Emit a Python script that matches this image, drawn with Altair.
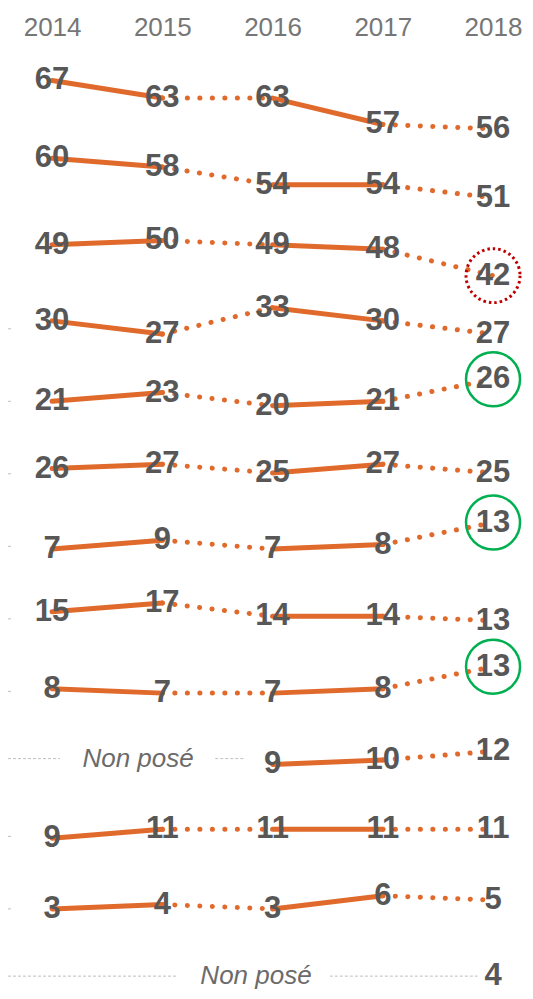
import altair as alt
import pandas as pd

# ---------------- data ----------------
years = [2014, 2015, 2016, 2017, 2018]

row_01 = [67, 63, 63, 57, 56]
row_02 = [60, 58, 54, 54, 51]
row_03 = [49, 50, 49, 48, 42]
row_04 = [30, 27, 33, 30, 27]
row_05 = [21, 23, 20, 21, 26]
row_06 = [26, 27, 25, 27, 25]
row_07 = [7, 9, 7, 8, 13]
row_08 = [15, 17, 14, 14, 13]
row_09 = [8, 7, 7, 8, 13]
row_10 = [None, None, 9, 10, 12]
row_11 = [9, 11, 11, 11, 11]
row_12 = [3, 4, 3, 6, 5]
row_13 = [None, None, None, None, 4]
rows = [row_01, row_02, row_03, row_04, row_05, row_06, row_07,
        row_08, row_09, row_10, row_11, row_12, row_13]

# highlighted cells: (row number, year)
circled_rise = [(5, 2018), (7, 2018), (9, 2018)]
circled_drop = [(3, 2018)]

# rows where the question was not asked in the first years
not_asked_rows = [10, 13]
not_asked_text = "Non posé"

# ---------------- layout / style ----------------
PLOT_W, PLOT_H = 517, 983
PX_PER_POINT = 4.4
ROW_TOP = 22.27      # in points (value units)
ROW_STEP = 16.48     # in points (value units)
X_DOMAIN = [2013.6, 2018.29]
ORANGE = "#E06A2C"
LABEL_GREY = "#575757"
HEADER_GREY = "#767676"
NOTE_GREY = "#6B6B6B"
RULE_GREY = "#BFBFBF"
FONT = "Liberation Sans"

# note placement (year units) and leader rules next to the notes
note_x = {10: 2014.78, 13: 2015.85}
note_rules = {10: [(X_DOMAIN[0], 2014.07), (2015.48, 2015.75)],
              13: [(X_DOMAIN[0], 2015.14), (2016.52, 2017.86)]}
left_tick_rows = [4, 5, 6, 7, 8, 9, 11, 12]

# ---------------- derived tables ----------------
rise_set = set(circled_rise)
drop_set = set(circled_drop)

points, segs, centres = [], [], {}
for i, vals in enumerate(rows):
    r = i + 1
    present = [v for v in vals if v is not None]
    mean = sum(present) / len(present)
    centre = ROW_TOP + i * ROW_STEP
    centres[r] = centre
    for yr, v in zip(years, vals):
        if v is None:
            continue
        circ = "rise" if (r, yr) in rise_set else ("drop" if (r, yr) in drop_set else "")
        points.append(dict(row=r, year=yr, value=v, pos=centre + (mean - v), circle=circ))
    for j in range(len(years) - 1):
        a, b = vals[j], vals[j + 1]
        if a is None or b is None:
            continue
        style = "solid" if j % 2 == 0 else "dotted"
        seg = f"{r}-{j}"
        segs.append(dict(seg=seg, style=style, year=years[j], pos=centre + (mean - a)))
        segs.append(dict(seg=seg, style=style, year=years[j + 1], pos=centre + (mean - b)))

pt_df = pd.DataFrame(points)
seg_df = pd.DataFrame(segs)

notes_df = pd.DataFrame([dict(year=note_x[r], pos=centres[r], text=not_asked_text)
                         for r in not_asked_rows])
rules = []
for r in not_asked_rows:
    for x1, x2 in note_rules[r]:
        rules.append(dict(year=x1, year2=x2, pos=centres[r]))
for r in left_tick_rows:
    rules.append(dict(year=X_DOMAIN[0], year2=2013.64, pos=centres[r] + 1.2))
rules_df = pd.DataFrame(rules)

# ---------------- encodings ----------------
x_enc = alt.X(
    "year:Q",
    scale=alt.Scale(domain=X_DOMAIN, nice=False, zero=False),
    axis=alt.Axis(orient="top", values=years, format="d", offset=-34.5,
                  domain=False, ticks=False, grid=False, labelFlush=False,
                  labelFontSize=26, labelFont=FONT, labelColor=HEADER_GREY,
                  labelPadding=2, title=None),
)
y_enc = alt.Y(
    "pos:Q",
    scale=alt.Scale(domain=[0, PLOT_H / PX_PER_POINT], reverse=True, nice=False, zero=False),
    axis=None,
)

rule_layer = alt.Chart(rules_df).mark_rule(
    stroke=RULE_GREY, strokeWidth=1, strokeDash=[3, 2]
).encode(x=x_enc, x2="year2:Q", y=y_enc)

solid_layer = alt.Chart(seg_df).transform_filter(
    alt.datum.style == "solid"
).mark_line(color=ORANGE, strokeWidth=5, strokeCap="round").encode(
    x=x_enc, y=y_enc, detail="seg:N"
)

dotted_layer = alt.Chart(seg_df).transform_filter(
    alt.datum.style == "dotted"
).mark_line(color=ORANGE, strokeWidth=5, strokeCap="round", strokeDash=[0.1, 12.4]).encode(
    x=x_enc, y=y_enc, detail="seg:N"
)

rise_layer = alt.Chart(pt_df).transform_filter(
    alt.datum.circle == "rise"
).mark_point(shape="circle", size=2916, filled=False, color="#00B050",
             strokeWidth=2.5, opacity=1).encode(x=x_enc, y=y_enc)

drop_layer = alt.Chart(pt_df).transform_filter(
    alt.datum.circle == "drop"
).mark_point(shape="circle", size=2916, filled=False, color="#C00000",
             strokeWidth=3, strokeDash=[2.5, 3], opacity=1).encode(x=x_enc, y=y_enc)

label_layer = alt.Chart(pt_df).mark_text(
    font=FONT, fontWeight="bold", fontSize=31, color=LABEL_GREY,
    align="center", baseline="middle"
).encode(x=x_enc, y=y_enc, text="value:Q")

note_layer = alt.Chart(notes_df).mark_text(
    font=FONT, fontStyle="italic", fontSize=26, color=NOTE_GREY,
    align="center", baseline="middle"
).encode(x=x_enc, y=y_enc, text="text:N")

chart = alt.layer(
    rule_layer, solid_layer, dotted_layer, rise_layer, drop_layer, label_layer, note_layer
).properties(
    width=PLOT_W, height=PLOT_H, padding=0,
    autosize=alt.AutoSizeParams(type="none"),
    background="white",
).configure_view(stroke=None)

chart.save("out.html", embed_options={"renderer": "svg", "actions": False})
